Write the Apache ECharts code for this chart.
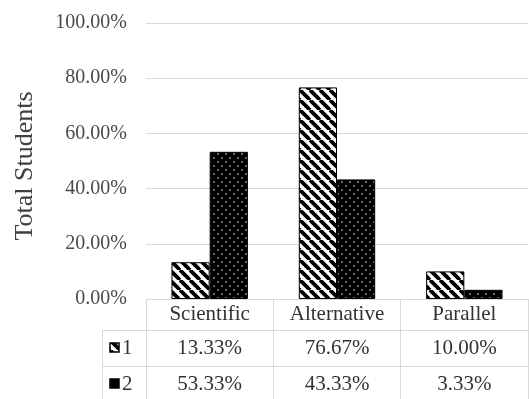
<!DOCTYPE html>
<html>
<head>
<meta charset="utf-8">
<script src="https://cdn.jsdelivr.net/npm/echarts@6/dist/echarts.min.js"></script>
<style>html,body{margin:0;padding:0;background:#fff}#c{width:529px;height:399px}</style>
</head>
<body>
<div id="c"></div>
<script>
const categories = ['Scientific', 'Alternative', 'Parallel'];
const seriesNames = ['1', '2'];
const series1 = [13.33, 76.67, 10.00];
const series2 = [53.33, 43.33, 3.33];
const yTicks = [0, 20, 40, 60, 80, 100];

const FONT = 'Liberation Serif';

function stripePattern() {
  const c = document.createElement('canvas');
  c.width = 10; c.height = 10;
  const g = c.getContext('2d');
  g.fillStyle = '#fff'; g.fillRect(0, 0, 10, 10);
  g.strokeStyle = '#000'; g.lineWidth = 3.8;
  [-10, 0, 10].forEach(o => { g.beginPath(); g.moveTo(o, 0); g.lineTo(o + 10, 10); g.stroke(); });
  return c;
}
function dotPattern() {
  const c = document.createElement('canvas');
  c.width = 8; c.height = 8;
  const g = c.getContext('2d');
  g.fillStyle = '#000'; g.fillRect(0, 0, 8, 8);
  g.fillStyle = '#9a9a9a';
  [[2, 2], [6, 6]].forEach(p => { g.beginPath(); g.arc(p[0], p[1], 0.9, 0, Math.PI * 2); g.fill(); });
  return c;
}
const pat1 = { image: stripePattern(), repeat: 'repeat' };
const pat2 = { image: dotPattern(), repeat: 'repeat' };

const chart = echarts.init(document.getElementById('c'), null, { renderer: 'canvas' });
const option = {
  animation: false,
  backgroundColor: '#fff',
  grid: { left: 146, right: 1, top: 23, bottom: 100 },
  xAxis: {
    type: 'category',
    data: categories,
    axisLine: { show: true, lineStyle: { color: '#d9d9d9', width: 1 } },
    axisTick: { show: true, length: 100, lineStyle: { color: '#d9d9d9', width: 1 } },
    axisLabel: { fontFamily: FONT, fontSize: 21, color: '#333', margin: 5 }
  },
  yAxis: {
    type: 'value', min: 0, max: 100, interval: 20,
    name: 'Total Students', nameLocation: 'middle', nameGap: 108, nameRotate: 90,
    nameTextStyle: { fontFamily: FONT, fontSize: 26, color: '#404040', padding: [0, 0, 0, -10] },
    axisLine: { show: false }, axisTick: { show: false },
    splitLine: { lineStyle: { color: '#d9d9d9', width: 1 } },
    axisLabel: { fontFamily: FONT, fontSize: 20, color: '#4a4a4a', margin: 19,
      formatter: v => v.toFixed(2) + '%' }
  },
  series: [
    { name: seriesNames[0], type: 'bar', data: series1, barWidth: '30%', barGap: '0%',
      itemStyle: { color: pat1, borderColor: '#000', borderWidth: 1 } },
    { name: seriesNames[1], type: 'bar', data: series2, barWidth: '30%',
      itemStyle: { color: pat2, borderColor: '#000', borderWidth: 1 } }
  ]
};
chart.setOption(option);

// data table built from the arrays
const rows = [series1, series2];
const keyFills = [pat1, '#000'];
const leftX = 102, rightX = 528;
const axisY = chart.convertToPixel({ yAxisIndex: 0 }, 0);
const rowTops = [axisY + 31, axisY + 67];
const rowH = 34;
const gfx = [];
rowTops.forEach(t => {
  gfx.push({ type: 'line', shape: { x1: leftX, y1: t + 0.5, x2: rightX, y2: t + 0.5 },
    style: { stroke: '#d9d9d9', lineWidth: 1 }, silent: true });
});
gfx.push({ type: 'line', shape: { x1: leftX + 0.5, y1: rowTops[0], x2: leftX + 0.5, y2: 399 },
  style: { stroke: '#d9d9d9', lineWidth: 1 }, silent: true });
rows.forEach((vals, r) => {
  const cy = rowTops[r] + rowH / 2 + 1;
  gfx.push({ type: 'rect', shape: { x: 110, y: cy - 5, width: 9, height: 9 },
    style: { fill: keyFills[r], stroke: '#000', lineWidth: 1.5 }, silent: true });
  gfx.push({ type: 'text', x: 122, y: cy, style: { text: seriesNames[r], fontFamily: FONT, fontSize: 21,
    fill: '#333', textAlign: 'left', textVerticalAlign: 'middle' }, silent: true });
  vals.forEach((v, i) => {
    const x = chart.convertToPixel({ xAxisIndex: 0 }, categories[i]);
    gfx.push({ type: 'text', x: x, y: cy, style: { text: v.toFixed(2) + '%', fontFamily: FONT, fontSize: 21,
      fill: '#333', textAlign: 'center', textVerticalAlign: 'middle' }, silent: true });
  });
});
chart.setOption({ graphic: gfx });
</script>
</body>
</html>
